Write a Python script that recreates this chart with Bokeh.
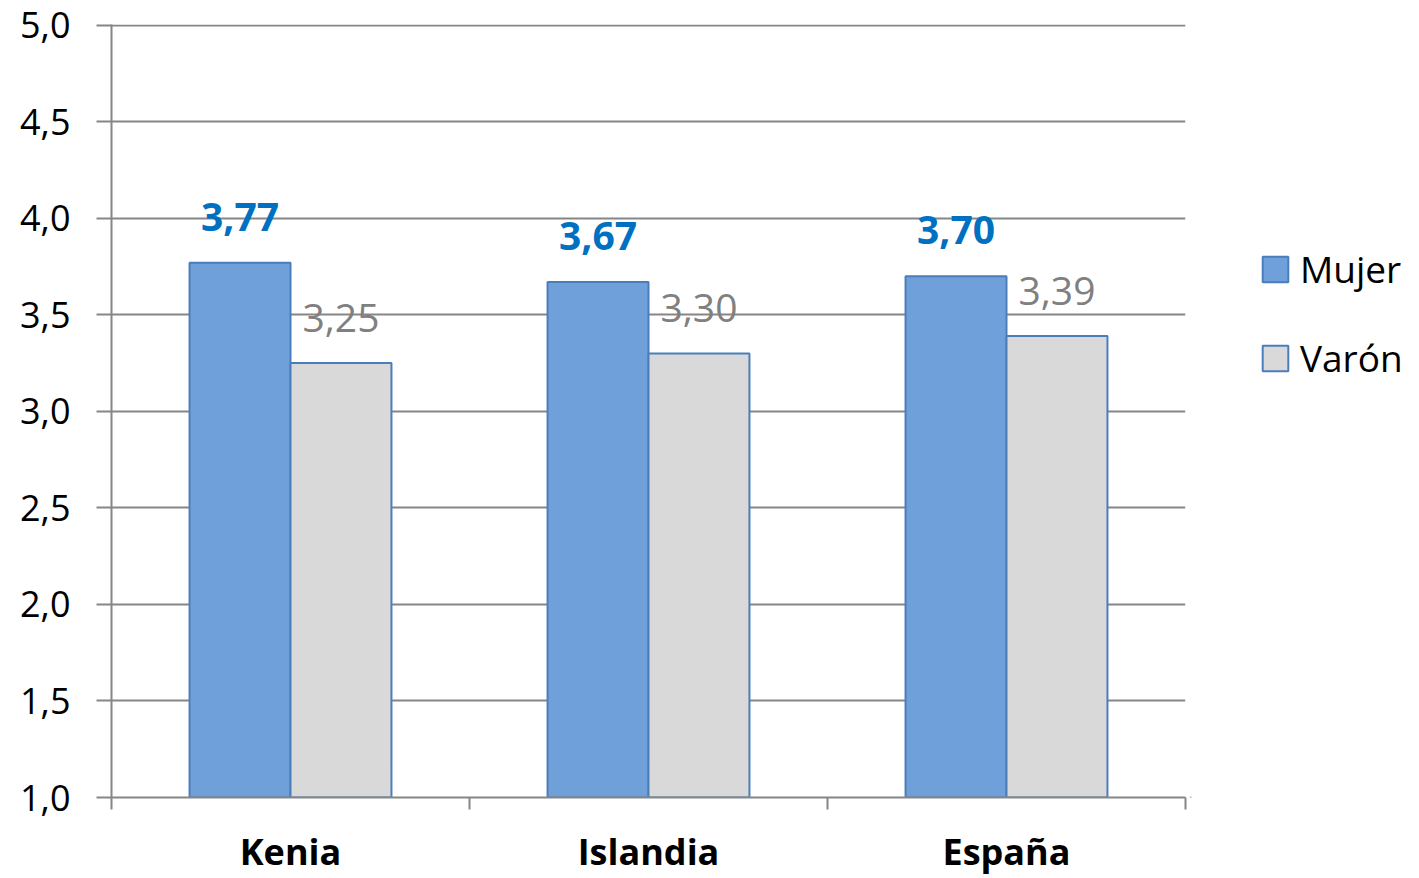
from bokeh.plotting import figure
from bokeh.layouts import row
from bokeh.models import (ColumnDataSource, Range1d, FixedTicker, CustomJSTickFormatter,
                          Legend, LegendItem, LabelSet)
from bokeh.core.properties import value
from bokeh.transform import dodge
from bokeh.embed import file_html
from bokeh.resources import INLINE

categories = ["Kenia", "Islandia", "España"]
mujer = [3.77, 3.67, 3.70]
varon = [3.25, 3.30, 3.39]
mujer_labels = ["3,77", "3,67", "3,70"]
varon_labels = ["3,25", "3,30", "3,39"]
series_names = ["Mujer", "Varón"]
y_ticks = [1.0, 1.5, 2.0, 2.5, 3.0, 3.5, 4.0, 4.5, 5.0]

FONT = "Open Sans"
GRID = "#868686"
BLUE_FILL = "#6FA0DA"
BLUE_LINE = "#4A7EBB"
GRAY_FILL = "#D9D9D9"

centers = [i + 0.5 for i in range(len(categories))]
bounds = list(range(len(categories) + 1))

src = ColumnDataSource(dict(x=centers, mujer=mujer, varon=varon, base=[1.0] * len(categories),
                            ml=mujer_labels, vl=varon_labels))

p = figure(width=1190, height=878, output_backend="svg", toolbar_location=None,
           x_range=Range1d(0, len(categories)), y_range=Range1d(1.0, 5.004),
           min_border_left=111, min_border_right=5, min_border_top=24, min_border_bottom=81)
p.outline_line_color = None
p.background_fill_color = "white"
p.border_fill_color = "white"

bw = 0.282
r1 = p.vbar(x=dodge("x", -bw / 2, range=p.x_range), top="mujer", bottom="base", width=bw, source=src,
            fill_color=BLUE_FILL, line_color=BLUE_LINE, line_width=2)
r2 = p.vbar(x=dodge("x", bw / 2, range=p.x_range), top="varon", bottom="base", width=bw, source=src,
            fill_color=GRAY_FILL, line_color=BLUE_LINE, line_width=2)

l1 = LabelSet(x=dodge("x", -bw / 2, range=p.x_range), y="mujer", text="ml", source=src,
              text_align="center", text_baseline="alphabetic", y_offset=32,
              text_font=value(FONT), text_font_style="bold", text_font_size="39px", text_color="#0070C0")
l2 = LabelSet(x=dodge("x", bw / 2, range=p.x_range), y="varon", text="vl", source=src,
              text_align="center", text_baseline="alphabetic", y_offset=31,
              text_font=value(FONT), text_font_size="39px", text_color="#808080")
p.add_layout(l1)
p.add_layout(l2)

# y axis
p.yaxis.ticker = FixedTicker(ticks=y_ticks)
p.yaxis.formatter = CustomJSTickFormatter(code="return tick.toFixed(1).replace('.', ',');")
p.yaxis.major_label_text_font = FONT
p.yaxis.major_label_text_font_size = "36px"
p.yaxis.major_label_text_color = "black"
p.yaxis.major_tick_out = 15
p.yaxis.major_tick_in = 0
p.yaxis.major_tick_line_color = GRID
p.yaxis.major_tick_line_width = 2
p.yaxis.minor_tick_line_color = None
p.yaxis.axis_line_color = GRID
p.yaxis.axis_line_width = 2
p.yaxis.major_label_standoff = 26

# x axis
p.xaxis.ticker = FixedTicker(ticks=centers, minor_ticks=bounds)
p.xaxis.formatter = CustomJSTickFormatter(args=dict(labels=categories),
                                          code="return labels[Math.floor(tick)];")
p.xaxis.major_label_text_font = FONT
p.xaxis.major_label_text_font_style = "bold"
p.xaxis.major_label_text_font_size = "36px"
p.xaxis.major_label_text_color = "black"
p.xaxis.major_tick_out = 0
p.xaxis.major_tick_in = 0
p.xaxis.minor_tick_out = 12
p.xaxis.minor_tick_in = 0
p.xaxis.minor_tick_line_color = GRID
p.xaxis.minor_tick_line_width = 2
p.xaxis.axis_line_color = GRID
p.xaxis.axis_line_width = 2
p.xaxis.major_label_standoff = 17

p.xgrid.grid_line_color = None
p.ygrid.ticker = FixedTicker(ticks=y_ticks)
p.ygrid.grid_line_color = GRID
p.ygrid.grid_line_width = 2

# legend panel (swatch renderers sit outside the visible range; only their legend glyphs show)
pl = figure(width=229, height=878, output_backend="svg", toolbar_location=None,
            x_range=Range1d(0, 1), y_range=Range1d(0, 1), min_border=0)
pl.axis.visible = False
pl.grid.grid_line_color = None
pl.outline_line_color = None
pl.background_fill_color = "white"
pl.border_fill_color = "white"
swatch = ColumnDataSource(dict(x=[-5], top=[-5], bottom=[-6]))
g1 = pl.vbar(x="x", top="top", bottom="bottom", width=0.1, source=swatch,
             fill_color=BLUE_FILL, line_color=BLUE_LINE, line_width=2)
g2 = pl.vbar(x="x", top="top", bottom="bottom", width=0.1, source=swatch,
             fill_color=GRAY_FILL, line_color=BLUE_LINE, line_width=2)
legend = Legend(items=[LegendItem(label=series_names[0], renderers=[g1]),
                       LegendItem(label=series_names[1], renderers=[g2])],
                location=(69, 414), orientation="vertical",
                glyph_width=32, glyph_height=32, label_height=40, spacing=38,
                label_standoff=9, padding=0, margin=0,
                label_text_font=FONT, label_text_font_size="37px", label_text_color="black",
                border_line_color=None, background_fill_alpha=0)
pl.add_layout(legend, "center")

layout = row(p, pl, spacing=0)
open("out.html", "w").write(file_html(layout, INLINE))
